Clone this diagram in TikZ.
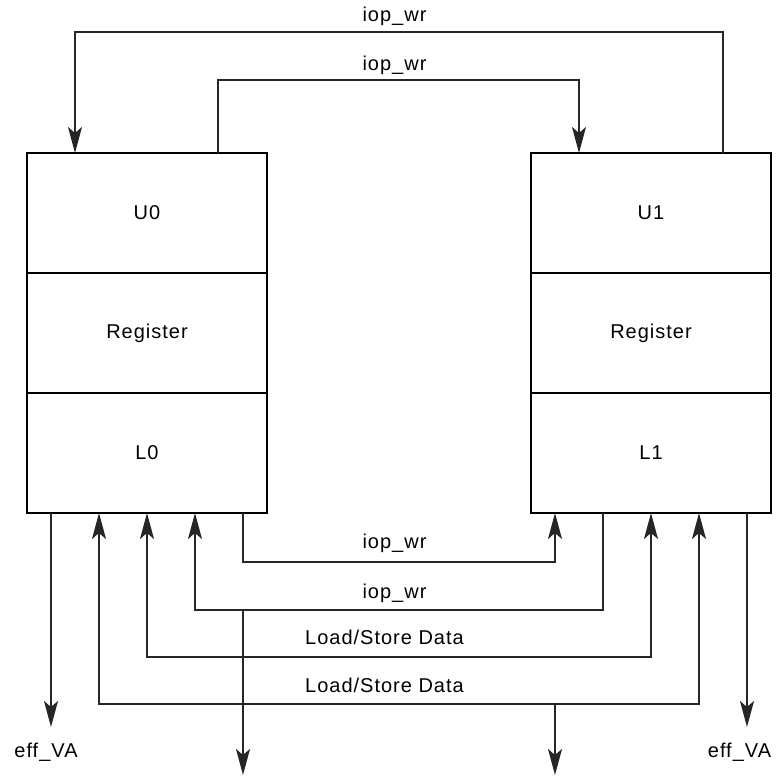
\documentclass[tikz,border=0pt]{standalone}
\usepackage{fontspec}
\setmainfont{Liberation Sans}[LetterSpace=5]
\usetikzlibrary{arrows.meta,calc}
\begin{document}
\begin{tikzpicture}[x=1pt,y=-1pt,
  font=\fontsize{20}{24}\selectfont,
  cell/.style={draw, line width=1.3pt, minimum width=240pt, minimum height=120pt, inner sep=0pt, outer sep=0pt},
  frame/.style={draw, line width=2.7pt},
  wire/.style={line width=1.2pt, draw=black!85},
  tip/.style={-{Stealth[length=26pt,width=14pt,inset=6pt]}},
  bitip/.style={{Stealth[length=26pt,width=14pt,inset=6pt]}-{Stealth[length=26pt,width=14pt,inset=6pt]}},
  lbl/.style={inner sep=0pt}
]
\useasboundingbox (0,0) rectangle (780,776);
% left block
\node[cell] (U0) at (147,213) {U0};
\node[cell] (R0) at (147,333) {Register};
\node[cell] (L0) at (147,453) {L0};
\draw[frame] (U0.north west) rectangle (L0.south east);
% right block
\node[cell] (U1) at (651,213) {U1};
\node[cell] (R1) at (651,333) {Register};
\node[cell] (L1) at (651,453) {L1};
\draw[frame] (U1.north west) rectangle (L1.south east);

% routing coordinates
\coordinate (t1) at (399,32);
\coordinate (t2) at (399,80);
\coordinate (b1) at (399,562);
\coordinate (b2) at (399,610);
\coordinate (b3) at (399,657);
\coordinate (b4) at (399,704);
\coordinate (d1) at (243,610);
\coordinate (o1) at (243,775);
\coordinate (d2) at (555,704);
\coordinate (o2) at (555,775);
\coordinate (e1) at (51,727);
\coordinate (e2) at (747,727);

% top connectors
\draw[wire,tip] ([xshift=192pt]U1.north west) |- (t1) -| ([xshift=48pt]U0.north west);
\draw[wire,tip] ([xshift=191pt]U0.north west) |- (t2) -| ([xshift=48pt]U1.north west);
\node[lbl] (lt1) at (394.5,16) {iop\_wr};
\node[lbl] (lt2) at (394.5,65) {iop\_wr};

% bottom connectors
\draw[wire,tip] ([xshift=216pt]L0.south west) |- (b1) -| ([xshift=24pt]L1.south west);
\draw[wire,tip] ([xshift=72pt]L1.south west) |- (b2) -| ([xshift=168pt]L0.south west);
\draw[wire,bitip] ([xshift=120pt]L0.south west) |- (b3) -| ([xshift=120pt]L1.south west);
\draw[wire,bitip] ([xshift=72pt]L0.south west) |- (b4) -| ([xshift=168pt]L1.south west);
\draw[wire,tip] (d1) -- (o1);
\draw[wire,tip] (d2) -- (o2);
\node[lbl] (lb1) at (394.5,543) {iop\_wr};
\node[lbl] (lb2) at (394.5,593) {iop\_wr};
\node[lbl] (lb3) at (384.5,637) {Load/Store Data};
\node[lbl] (lb4) at (384.5,685) {Load/Store Data};

% eff_VA
\draw[wire,tip] ([xshift=24pt]L0.south west) -- (e1);
\draw[wire,tip] ([xshift=216pt]L1.south west) -- (e2);
\node[lbl] (ev1) at (46,752) {eff\_VA};
\node[lbl] (ev2) at (739.5,752) {eff\_VA};
\end{tikzpicture}
\end{document}
